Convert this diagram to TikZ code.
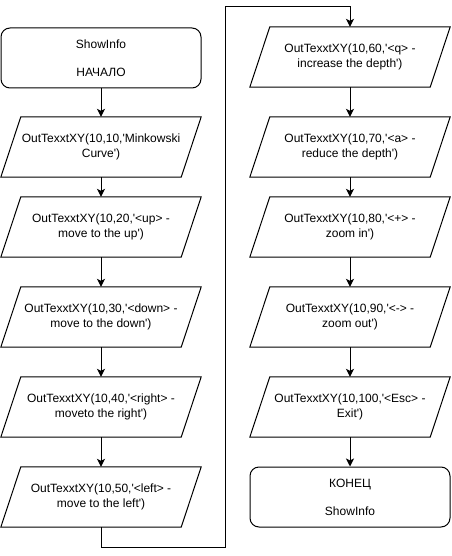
\documentclass[tikz,border=0pt]{standalone}
\usepackage{fontspec}
\setmainfont{Liberation Sans}[Ligatures=TeXReset]
\usetikzlibrary{arrows.meta}
\begin{document}
\begin{tikzpicture}[x=1pt,y=-1pt,
  every node/.style={font=\fontsize{12}{15}\selectfont, align=center, inner sep=0pt},
  termbox/.style={draw, line width=1pt, rounded corners=9pt, minimum width=200pt, minimum height=60pt},
  iobox/.style={minimum width=200pt, minimum height=60pt},
  ioshape/.style={draw, line width=1pt, line join=miter},
  flow/.style={draw, line width=1pt, -{Stealth[length=8pt,width=8pt,inset=2pt]}}
]
\useasboundingbox (0,0) rectangle (451,556);
% left column
\node[termbox] (start) at (101,58) {ShowInfo\\[13pt]НАЧАЛО};
\node[iobox] (p1) at (101,147) {OutTexxtXY(10,10,'Minkowski\\Curve')};
\node[iobox] (p2) at (101,227) {OutTexxtXY(10,20,'<up> -\\move to the up')};
\node[iobox] (p3) at (101,317) {OutTexxtXY(10,30,'<down> -\\move to the down')};
\node[iobox] (p4) at (101,407) {OutTexxtXY(10,40,'<right> -\\moveto the right')};
\node[iobox] (p5) at (101,497) {OutTexxtXY(10,50,'<left> -\\move to the left')};
% right column
\node[iobox] (p6) at (350,57) {OutTexxtXY(10,60,'<q> -\\increase the depth')};
\node[iobox] (p7) at (350,147) {OutTexxtXY(10,70,'<a> -\\reduce the depth')};
\node[iobox] (p8) at (350,227) {OutTexxtXY(10,80,'<+> -\\zoom in')};
\node[iobox] (p9) at (350,317) {OutTexxtXY(10,90,'<-> -\\zoom out')};
\node[iobox] (p10) at (350,407) {OutTexxtXY(10,100,'<Esc> -\\Exit')};
\node[termbox] (end) at (350,497) {КОНЕЦ\\[13pt]ShowInfo};
% parallelogram outlines
\foreach \n in {p1,p2,p3,p4,p5,p6,p7,p8,p9,p10}{
  \draw[ioshape] ([xshift=20pt]\n.north west) -- (\n.north east)
    -- ([xshift=-20pt]\n.south east) -- (\n.south west) -- cycle;
}
% connectors
\draw[flow] (start) -- (p1);
\draw[flow] (p1) -- (p2);
\draw[flow] (p2) -- (p3);
\draw[flow] (p3) -- (p4);
\draw[flow] (p4) -- (p5);
\coordinate (c1) at (101,547);
\coordinate (c2) at (225,7);
\draw[flow] (p5.south) -- (c1) -| (c2) -| (p6.north);
\draw[flow] (p6) -- (p7);
\draw[flow] (p7) -- (p8);
\draw[flow] (p8) -- (p9);
\draw[flow] (p9) -- (p10);
\draw[flow] (p10) -- (end);
\end{tikzpicture}
\end{document}
